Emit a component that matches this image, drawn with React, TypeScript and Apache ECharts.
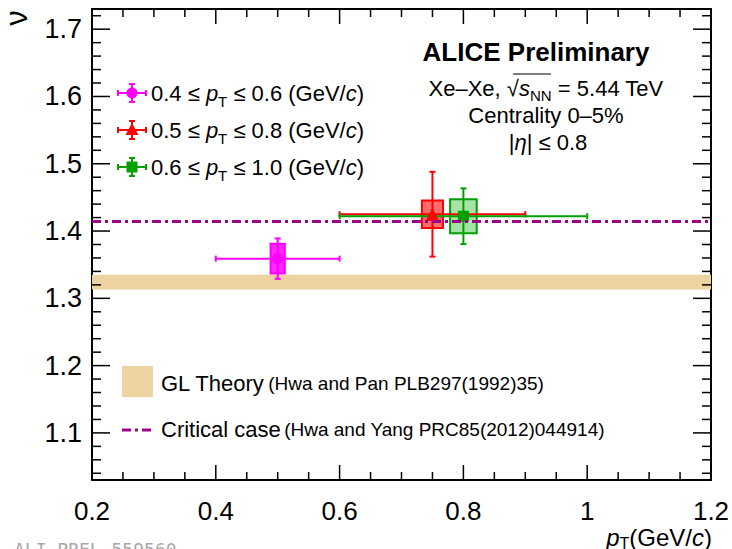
import React, { useEffect, useRef } from 'react';
import * as echarts from 'echarts';

// ---- data ----
const ptLowLabels = ['0.4', '0.5', '0.6'];
const ptHighLabels = ['0.6', '0.8', '1.0'];
const xCenter = [0.5, 0.75, 0.8];
const xLow = [0.4, 0.6, 0.6];
const xHigh = [0.6, 0.9, 1.0];
const nuValue = [1.359, 1.425, 1.422];
const statErr = [0.03, 0.063, 0.0414];
const sysErr = [0.022, 0.0205, 0.0253];
const sysHalfWidth = [0.0115, 0.017, 0.0215];
const seriesColors = ['#ff00ff', '#ff0000', '#00a000'];
const boxFills = ['rgba(255,0,255,0.85)', 'rgba(255,60,60,0.75)', 'rgba(60,190,60,0.45)'];
const markerShapes = ['circle', 'triangle', 'rect'];
const markerSizes = [11, 13, 11];

const glBand = [1.313, 1.335];
const criticalNu = 1.414;
const xRange = [0.2, 1.2];
const yRange = [1.03, 1.73];

const xMajorTicks = [0.2, 0.4, 0.6, 0.8, 1.0, 1.2];
const xMinorTicks = [0.25, 0.3, 0.35, 0.45, 0.5, 0.55, 0.65, 0.7, 0.75, 0.85, 0.9, 0.95, 1.05, 1.1, 1.15];
const yMajorTicks = [1.1, 1.2, 1.3, 1.4, 1.5, 1.6, 1.7];
const yMinorTicks = [
  1.04, 1.06, 1.08, 1.12, 1.14, 1.16, 1.18, 1.22, 1.24, 1.26, 1.28, 1.32, 1.34, 1.36, 1.38,
  1.42, 1.44, 1.46, 1.48, 1.52, 1.54, 1.56, 1.58, 1.62, 1.64, 1.66, 1.68, 1.72,
];

const FONT = '"Liberation Sans", Arial, Helvetica, sans-serif';
const BAND_COLOR = '#ecd39f';
const CRIT_COLOR = '#a0008c';

export default function App() {
  const ref = useRef<HTMLDivElement>(null);
  useEffect(() => {
    if (!ref.current) return;
    const chart = echarts.init(ref.current, undefined, { renderer: 'svg' });

    const axisCommon = {
      type: 'value',
      axisLine: { show: true, onZero: false, lineStyle: { color: '#000', width: 2 } },
      axisTick: { show: false },
      minorTick: { show: false },
      splitLine: { show: false },
      minorSplitLine: { show: false },
    };
    const xAxisBase = { ...axisCommon, min: xRange[0], max: xRange[1], interval: 0.2 };
    const yAxisBase = { ...axisCommon, min: yRange[0], max: yRange[1], splitNumber: 7 };

    // tick data: [x, y, kind(0 = x-axis tick, 1 = y-axis tick), major(1/0)]
    const tickData: number[][] = [
      ...xMajorTicks.map((v) => [v, yRange[0], 0, 1]),
      ...xMinorTicks.map((v) => [v, yRange[0], 0, 0]),
      ...yMajorTicks.map((v) => [xRange[0], v, 1, 1]),
      ...yMinorTicks.map((v) => [xRange[0], v, 1, 0]),
    ];

    const legendRich = {
      n: { fontSize: 22, fontFamily: FONT, color: '#000', lineHeight: 30 },
      i: { fontSize: 22, fontFamily: FONT, color: '#000', fontStyle: 'italic', lineHeight: 30 },
      s: { fontSize: 15, fontFamily: FONT, color: '#000', lineHeight: 15, padding: [16, 0, 0, 0] },
    };

    const legendY = [93, 130, 167];
    const legendX = 132;
    const legendElems: any[] = [];
    legendY.forEach((cy, i) => {
      const c = seriesColors[i];
      const ls = { stroke: c, lineWidth: 2 };
      legendElems.push(
        { type: 'line', shape: { x1: legendX - 14, y1: cy, x2: legendX + 14, y2: cy }, style: ls },
        { type: 'line', shape: { x1: legendX, y1: cy - 9, x2: legendX, y2: cy + 9 }, style: ls },
        { type: 'line', shape: { x1: legendX - 3, y1: cy - 9, x2: legendX + 3, y2: cy - 9 }, style: ls },
        { type: 'line', shape: { x1: legendX - 3, y1: cy + 9, x2: legendX + 3, y2: cy + 9 }, style: ls },
        { type: 'line', shape: { x1: legendX - 14, y1: cy - 3, x2: legendX - 14, y2: cy + 3 }, style: ls },
        { type: 'line', shape: { x1: legendX + 14, y1: cy - 3, x2: legendX + 14, y2: cy + 3 }, style: ls },
      );
      if (markerShapes[i] === 'circle') {
        legendElems.push({ type: 'circle', shape: { cx: legendX, cy, r: 5.5 }, style: { fill: c } });
      } else if (markerShapes[i] === 'triangle') {
        legendElems.push({ type: 'polygon', shape: { points: [[legendX, cy - 7], [legendX - 6.5, cy + 5], [legendX + 6.5, cy + 5]] }, style: { fill: c } });
      } else {
        legendElems.push({ type: 'rect', shape: { x: legendX - 5.5, y: cy - 5.5, width: 11, height: 11 }, style: { fill: c } });
      }
      legendElems.push({
        type: 'text',
        x: 151,
        y: cy,
        style: {
          text: `{n|${ptLowLabels[i]} ≤ }{i|p}{s|T}{n| ≤ ${ptHighLabels[i]} (GeV/}{i|c}{n|)}`,
          rich: legendRich,
          verticalAlign: 'middle',
          align: 'left',
        },
      });
    });

    const option: any = {
      animation: false,
      backgroundColor: '#fff',
      grid: { left: 92, right: 21, top: 9, bottom: 69, outerBoundsMode: 'none' },
      xAxis: [
        { ...xAxisBase, position: 'bottom', axisLabel: { fontSize: 26, color: '#000', margin: 18, fontFamily: FONT } },
        { ...xAxisBase, position: 'top', axisLabel: { show: false } },
      ],
      yAxis: [
        {
          ...yAxisBase,
          position: 'left',
          axisLabel: { fontSize: 27, color: '#000', margin: 10, fontFamily: FONT, showMinLabel: false, showMaxLabel: false },
        },
        { ...yAxisBase, position: 'right', axisLabel: { show: false } },
      ],
      series: [
        {
          type: 'custom',
          name: 'GL band',
          renderItem: (params: any, api: any) => {
            const p1 = api.coord([api.value(0), api.value(3)]);
            const p2 = api.coord([api.value(1), api.value(2)]);
            return {
              type: 'rect',
              shape: { x: p1[0], y: p1[1], width: p2[0] - p1[0], height: p2[1] - p1[1] },
              style: { fill: BAND_COLOR },
            };
          },
          data: [[xRange[0], xRange[1], glBand[0], glBand[1]]],
          encode: { x: [0, 1], y: [2, 3] },
          silent: true,
        },
        {
          type: 'custom',
          name: 'sys',
          renderItem: (params: any, api: any) => {
            const i = params.dataIndex;
            const xc = api.value(0), y = api.value(1), hw = api.value(2), e = api.value(3);
            const p1 = api.coord([xc - hw, y + e]);
            const p2 = api.coord([xc + hw, y - e]);
            return {
              type: 'rect',
              shape: { x: p1[0], y: p1[1], width: p2[0] - p1[0], height: p2[1] - p1[1] },
              style: { fill: boxFills[i], stroke: seriesColors[i], lineWidth: 2 },
            };
          },
          data: xCenter.map((x, i) => [x, nuValue[i], sysHalfWidth[i], sysErr[i]]),
          encode: { x: 0, y: 1 },
          silent: true,
        },
        {
          type: 'line',
          name: 'Critical case',
          data: [[xRange[0], criticalNu], [xRange[1], criticalNu]],
          symbol: 'none',
          lineStyle: { color: CRIT_COLOR, width: 3, type: [9, 4, 3, 4] },
          silent: true,
        },
        {
          type: 'custom',
          name: 'stat',
          renderItem: (params: any, api: any) => {
            const i = params.dataIndex;
            const xc = api.value(0), y = api.value(1), xl = api.value(2), xh = api.value(3), e = api.value(4);
            const pL = api.coord([xl, y]);
            const pH = api.coord([xh, y]);
            const pT = api.coord([xc, y + e]);
            const pB = api.coord([xc, y - e]);
            const st = { stroke: seriesColors[i], lineWidth: 2 };
            const cap = 3;
            return {
              type: 'group',
              children: [
                { type: 'line', shape: { x1: pL[0], y1: pL[1], x2: pH[0], y2: pH[1] }, style: st },
                { type: 'line', shape: { x1: pT[0], y1: pT[1], x2: pB[0], y2: pB[1] }, style: st },
                { type: 'line', shape: { x1: pL[0], y1: pL[1] - cap, x2: pL[0], y2: pL[1] + cap }, style: st },
                { type: 'line', shape: { x1: pH[0], y1: pH[1] - cap, x2: pH[0], y2: pH[1] + cap }, style: st },
                { type: 'line', shape: { x1: pT[0] - cap, y1: pT[1], x2: pT[0] + cap, y2: pT[1] }, style: st },
                { type: 'line', shape: { x1: pB[0] - cap, y1: pB[1], x2: pB[0] + cap, y2: pB[1] }, style: st },
              ],
            };
          },
          data: xCenter.map((x, i) => [x, nuValue[i], xLow[i], xHigh[i], statErr[i]]),
          encode: { x: 0, y: 1 },
          silent: true,
        },
        ...xCenter.map((x, i) => ({
          type: 'scatter',
          data: [[x, nuValue[i]]],
          symbol: markerShapes[i],
          symbolSize: markerSizes[i],
          itemStyle: { color: seriesColors[i], opacity: 1 },
          silent: true,
        })),
        {
          type: 'custom',
          name: 'ticks',
          renderItem: (params: any, api: any) => {
            const kind = api.value(2);
            const major = api.value(3) === 1;
            const st = { stroke: '#000', lineWidth: 1.5 };
            if (kind === 0) {
              const v = api.value(0);
              const pb = api.coord([v, yRange[0]]);
              const pt = api.coord([v, yRange[1]]);
              const L = major ? 15 : 8;
              return {
                type: 'group',
                children: [
                  { type: 'line', shape: { x1: pb[0], y1: pb[1], x2: pb[0], y2: pb[1] - L }, style: st },
                  { type: 'line', shape: { x1: pt[0], y1: pt[1], x2: pt[0], y2: pt[1] + L }, style: st },
                ],
              };
            }
            const v = api.value(1);
            const pl = api.coord([xRange[0], v]);
            const pr = api.coord([xRange[1], v]);
            const L = major ? 18 : 9;
            return {
              type: 'group',
              children: [
                { type: 'line', shape: { x1: pl[0], y1: pl[1], x2: pl[0] + L, y2: pl[1] }, style: st },
                { type: 'line', shape: { x1: pr[0], y1: pr[1], x2: pr[0] - L, y2: pr[1] }, style: st },
              ],
            };
          },
          data: tickData,
          encode: { x: 0, y: 1 },
          silent: true,
          z: 5,
        },
      ],
      graphic: {
        elements: [
          // y axis title
          {
            type: 'text',
            x: 16,
            y: 18,
            rotation: Math.PI / 2,
            style: { text: 'ν', fontSize: 31, fontFamily: FONT, fill: '#000', align: 'center', verticalAlign: 'middle' },
          },
          // x axis title
          {
            type: 'text',
            x: 712,
            y: 537,
            style: {
              text: '{i|p}{s|T}{n|(GeV/}{i|c}{n|)}',
              align: 'right',
              verticalAlign: 'middle',
              rich: {
                n: { fontSize: 24, fontFamily: FONT, color: '#000', lineHeight: 20 },
                i: { fontSize: 24, fontFamily: FONT, color: '#000', fontStyle: 'italic', lineHeight: 20 },
                s: { fontSize: 16, fontFamily: FONT, color: '#000', lineHeight: 9, padding: [13, 0, 0, 0] },
              },
            },
          },
          // ALICE text block
          {
            type: 'text',
            x: 536,
            y: 52,
            style: { text: 'ALICE Preliminary', fontSize: 26, fontWeight: 'bold', fontFamily: FONT, fill: '#000', align: 'center', verticalAlign: 'middle' },
          },
          {
            type: 'text',
            x: 546,
            y: 88,
            style: {
              text: '{n|Xe–Xe, √}{i|s}{s|NN}{n| = 5.44 TeV}',
              align: 'center',
              verticalAlign: 'middle',
              rich: {
                n: { fontSize: 22, fontFamily: FONT, color: '#000', lineHeight: 30 },
                i: { fontSize: 22, fontFamily: FONT, color: '#000', fontStyle: 'italic', lineHeight: 30 },
                s: { fontSize: 15, fontFamily: FONT, color: '#000', lineHeight: 15, padding: [15, 0, 0, 0] },
              },
            },
          },
          { type: 'line', shape: { x1: 513, y1: 74, x2: 551, y2: 74 }, style: { stroke: '#000', lineWidth: 1.2 } },
          {
            type: 'text',
            x: 546,
            y: 115,
            style: { text: 'Centrality 0–5%', fontSize: 22, fontFamily: FONT, fill: '#000', align: 'center', verticalAlign: 'middle' },
          },
          {
            type: 'text',
            x: 548,
            y: 142,
            style: {
              text: '{n||}{i|η}{n|| ≤ 0.8}',
              align: 'center',
              verticalAlign: 'middle',
              rich: {
                n: { fontSize: 22, fontFamily: FONT, color: '#000', lineHeight: 30 },
                i: { fontSize: 22, fontFamily: FONT, color: '#000', fontStyle: 'italic', lineHeight: 30 },
              },
            },
          },
          ...legendElems,
          // bottom legend
          { type: 'rect', shape: { x: 122, y: 366, width: 31, height: 31 }, style: { fill: BAND_COLOR } },
          {
            type: 'text',
            x: 161,
            y: 383,
            style: {
              text: '{b|GL Theory} {m|(Hwa and Pan PLB297(1992)35)}',
              align: 'left',
              verticalAlign: 'middle',
              rich: {
                b: { fontSize: 22, fontFamily: FONT, color: '#000', lineHeight: 30 },
                m: { fontSize: 19, fontFamily: FONT, color: '#000', lineHeight: 30 },
              },
            },
          },
          { type: 'line', shape: { x1: 122, y1: 430, x2: 153, y2: 430 }, style: { stroke: CRIT_COLOR, lineWidth: 3, lineDash: [9, 4, 3, 4] } },
          {
            type: 'text',
            x: 161,
            y: 429,
            style: {
              text: '{b|Critical case} {m|(Hwa and Yang PRC85(2012)044914)}',
              align: 'left',
              verticalAlign: 'middle',
              rich: {
                b: { fontSize: 22, fontFamily: FONT, color: '#000', lineHeight: 30 },
                m: { fontSize: 19, fontFamily: FONT, color: '#000', lineHeight: 30 },
              },
            },
          },
          // watermark
          {
            type: 'text',
            x: 14,
            y: 540,
            style: { text: 'ALI-PREL-559560', fontSize: 18, fontFamily: '"DejaVu Sans Mono", "Liberation Mono", monospace', fill: '#a8a8a8', align: 'left', verticalAlign: 'top' },
          },
        ],
      },
    };

    chart.setOption(option);
    return () => chart.dispose();
  }, []);

  return <div ref={ref} style={{ position: 'fixed', left: 0, top: 0, width: 732, height: 549 }} />;
}
